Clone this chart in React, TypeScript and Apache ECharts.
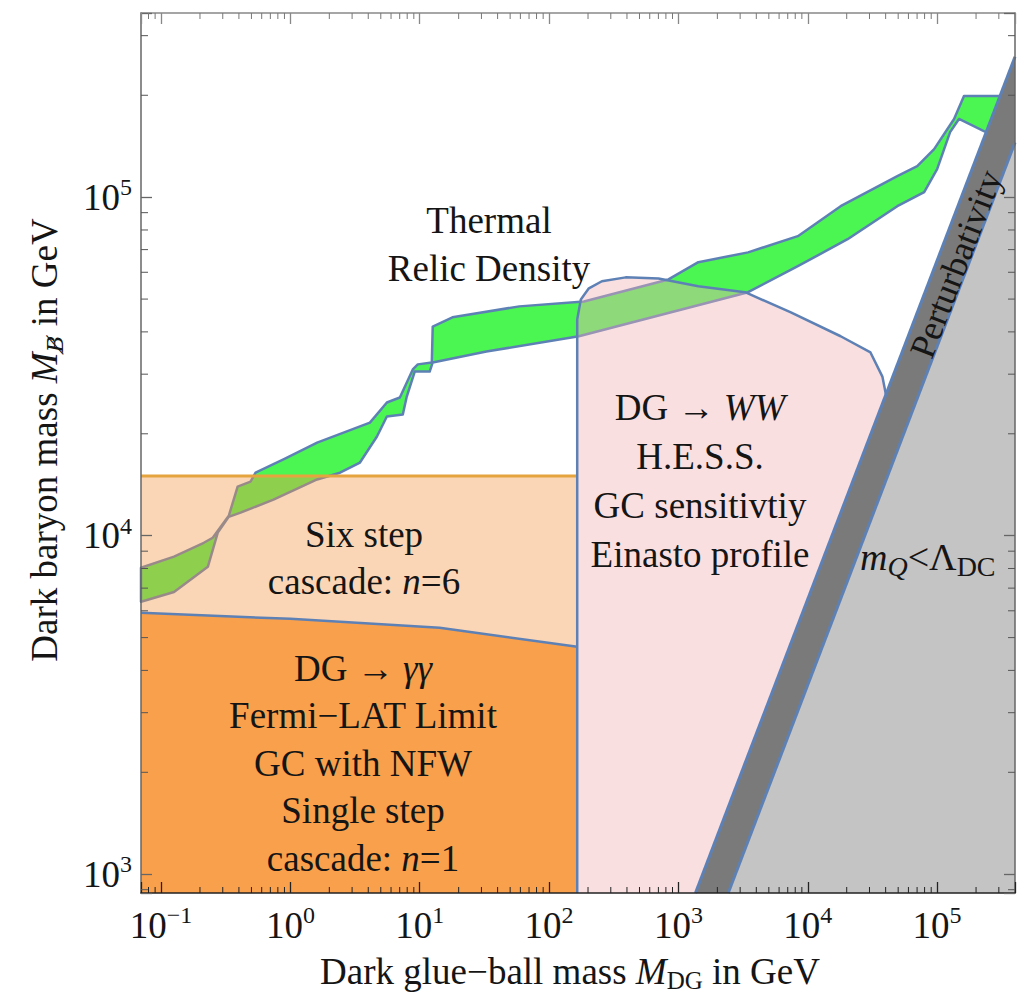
import React, { useEffect, useRef } from "react";
import * as echarts from "echarts";

// ---------- axis ranges ----------
const X_MIN = 0.07;
const X_MAX = 4e5;
const Y_MIN = 880;
const Y_MAX = 3.5e5;

// ---------- Thermal relic density band (upper / lower edge) ----------
const RELIC_UPPER_X = [0.07, 0.126, 0.214, 0.251, 0.334, 0.391, 0.492, 0.538, 0.884, 1.61, 4.12, 5.57, 7.02, 8.84, 9.66, 12.4, 12.6, 17.9, 58.8, 186, 837, 1425, 3455, 8375, 17950, 49230, 70200, 94800, 135200, 161300, 358000];
const RELIC_UPPER_Y = [8040, 8670, 9530, 9860, 11450, 13960, 14450, 15350, 16800, 18840, 21580, 24750, 25600, 30980, 32070, 32500, 41480, 44170, 47580, 49210, 57150, 64260, 68700, 76700, 94050, 115400, 123600, 138700, 170200, 199000, 199000];
const RELIC_LOWER_X = [0.07, 0.126, 0.23, 0.2745, 0.3335, 0.412, 0.74, 1.61, 2.42, 3.45, 4.67, 5.57, 7.4, 7.94, 9.15, 11.94, 12.6, 32.8, 170, 3455, 8375, 20310, 49230, 79430, 100000, 126000, 147600, 229900, 358000];
const RELIC_LOWER_Y = [6380, 6820, 8090, 10210, 11370, 11700, 12780, 14660, 15350, 16450, 19630, 22490, 22800, 25770, 30540, 30540, 32500, 35000, 38830, 52390, 62530, 75130, 94050, 103500, 121000, 155700, 170200, 156800, 146600];

// ---------- H.E.S.S. region boundary ----------
const HESS_X = [165, 165, 176, 203, 256, 391, 702, 1425, 3275, 7400, 17950, 30530, 37740, 40180, 1354];
const HESS_Y = [880, 43560, 49890, 53790, 56440, 57960, 57530, 54540, 52390, 45700, 38830, 34780, 29510, 26120, 880];

// ---------- Fermi-LAT single step limit (top edge) ----------
const FERMI_X = [0.07, 1, 14.25, 165];
const FERMI_Y = [5916, 5680, 5343, 4695];

// ---------- Six step cascade limit ----------
const SIX_STEP_X = [0.07, 165];
const SIX_STEP_Y = [15000, 15000];

// ---------- Perturbativity band edges ----------
const PERT_LEFT_X = [1354, 4e5];
const PERT_LEFT_Y = [880, 2.6e5];
const PERT_RIGHT_X = [2427, 4e5];
const PERT_RIGHT_Y = [880, 1.45e5];

const F = '"Liberation Serif", "Times New Roman", Times, serif';
const BLUE = "#5E81B5";
const INK = "#151515";

const zip = (xs: number[], ys: number[]) => xs.map((x, i) => [x, ys[i]]);

function polySeries(name: string, pts: number[][], style: any, closed: boolean, z = 2) {
  return {
    type: "custom",
    name,
    xAxisIndex: 0,
    yAxisIndex: 0,
    silent: true,
    z,
    data: pts,
    renderItem: (params: any, api: any) => {
      if (params.dataIndex !== 0) return null;
      const points = pts.map((p) => api.coord(p));
      if (closed) return { type: "polygon", shape: { points }, style };
      return { type: "polyline", shape: { points }, style: { fill: "none", ...style } };
    },
  };
}

// minor tick values (2..9 x 10^k) inside the ranges
const MINOR_X: number[] = [];
for (let e = -2; e <= 5; e++) for (let m = 2; m <= 9; m++) { const v = m * Math.pow(10, e); if (v > X_MIN * 1.0001 && v < X_MAX * 0.9999) MINOR_X.push(v); }
const MINOR_Y: number[] = [];
for (let e = 2; e <= 5; e++) for (let m = 2; m <= 9; m++) { const v = m * Math.pow(10, e); if (v > Y_MIN && v < Y_MAX) MINOR_Y.push(v); }

const labelRich = {
  b: { fontFamily: F, fontSize: 37, lineHeight: 44, color: INK },
  s: { fontFamily: F, fontSize: 24, lineHeight: 24, verticalAlign: "top", color: INK },
};
const powFmt = (v: number) => {
  const e = Math.log10(v);
  const r = Math.round(e);
  if (Math.abs(e - r) > 1e-6) return "";
  return `{b|10}{s|${r < 0 ? "\u2212" + -r : r}}`;
};

function textRich(fs: number, lh: number, subScale: number) {
  const ss = Math.round(fs * subScale);
  return {
    i: { fontFamily: F, fontSize: fs, fontStyle: "italic", lineHeight: lh, fill: INK },
    sub: { fontFamily: F, fontSize: ss, lineHeight: Math.round(ss * 1.03), verticalAlign: "bottom", fill: INK },
    subi: { fontFamily: F, fontSize: ss, fontStyle: "italic", lineHeight: Math.round(ss * 1.03), verticalAlign: "bottom", fill: INK },
    subslash: { fontFamily: '"DejaVu Serif", serif', fontSize: ss - 2, fontStyle: "italic", lineHeight: Math.round(ss * 1.03), verticalAlign: "bottom", fill: INK },
  };
}

function label(x: number, y: number, text: string, fs: number, lh: number, extra: any = {}, subScale = 0.68) {
  return {
    type: "text",
    x,
    y,
    silent: true,
    z: 100,
    ...extra,
    style: {
      text,
      fontFamily: F,
      fontSize: fs,
      lineHeight: lh,
      fill: INK,
      align: extra.align || "center",
      verticalAlign: "middle",
      rich: textRich(fs, lh, subScale),
    },
  };
}

export default function App() {
  const ref = useRef<HTMLDivElement>(null);
  useEffect(() => {
    const chart = echarts.init(ref.current!, null, { renderer: "svg" });
    const upper = zip(RELIC_UPPER_X, RELIC_UPPER_Y);
    const lower = zip(RELIC_LOWER_X, RELIC_LOWER_Y);
    const fermi = zip(FERMI_X, FERMI_Y);
    const six = zip(SIX_STEP_X, SIX_STEP_Y);
    const hess = zip(HESS_X, HESS_Y);
    const pl = zip(PERT_LEFT_X, PERT_LEFT_Y);
    const pr = zip(PERT_RIGHT_X, PERT_RIGHT_Y);
    const edgeX = FERMI_X[FERMI_X.length - 1];

    const series: any[] = [
      polySeries("fermi", [[X_MIN, Y_MIN], ...fermi, [edgeX, Y_MIN]], { fill: "#F9A04C" }, true, 2),
      polySeries("relic", [...upper, ...lower.slice().reverse()], { fill: "#4CF652", stroke: BLUE, lineWidth: 2.5, lineJoin: "round" }, true, 3),
      polySeries("sixstep", [...fermi, [edgeX, SIX_STEP_Y[1]], [X_MIN, SIX_STEP_Y[0]]], { fill: "rgba(242,152,72,0.4)" }, true, 4),
      polySeries("hess", hess, { fill: "rgba(242,175,180,0.4)" }, true, 4),
      polySeries("sixline", six, { stroke: "#E6A43E", lineWidth: 3 }, false, 5),
      polySeries("fermiline", fermi, { stroke: BLUE, lineWidth: 2.5 }, false, 5),
      polySeries("hessline", hess.slice(0, hess.length - 1), { stroke: BLUE, lineWidth: 2.5, lineJoin: "round" }, false, 5),
      polySeries("gray", [pr[0], [X_MAX, Y_MIN], pr[1]], { fill: "#C4C4C4" }, true, 6),
      polySeries("band", [pl[0], pr[0], pr[1], pl[1]], { fill: "#7A7A7A" }, true, 6),
      polySeries("bandL", pl, { stroke: BLUE, lineWidth: 3 }, false, 7),
      polySeries("bandR", pr, { stroke: BLUE, lineWidth: 3 }, false, 7),
      {
        type: "custom",
        name: "minorX",
        silent: true,
        z: 20,
        data: MINOR_X.map((v) => [v, Y_MIN]),
        renderItem: (params: any, api: any) => {
          const v = MINOR_X[params.dataIndex];
          const b = api.coord([v, Y_MIN]);
          const t = api.coord([v, Y_MAX]);
          return {
            type: "group",
            children: [
              { type: "line", shape: { x1: b[0], y1: b[1], x2: b[0], y2: b[1] - 6 }, style: { stroke: "#222", lineWidth: 1 } },
              { type: "line", shape: { x1: t[0], y1: t[1], x2: t[0], y2: t[1] + 6 }, style: { stroke: "#777", lineWidth: 1 } },
            ],
          };
        },
      },
      {
        type: "custom",
        name: "minorY",
        silent: true,
        z: 20,
        data: MINOR_Y.map((v) => [X_MIN, v]),
        renderItem: (params: any, api: any) => {
          const v = MINOR_Y[params.dataIndex];
          const l = api.coord([X_MIN, v]);
          const r = api.coord([X_MAX, v]);
          return {
            type: "group",
            children: [
              { type: "line", shape: { x1: l[0], y1: l[1], x2: l[0] + 7, y2: l[1] }, style: { stroke: "#555", lineWidth: 1 } },
              { type: "line", shape: { x1: r[0], y1: r[1], x2: r[0] - 7, y2: r[1] }, style: { stroke: "#555", lineWidth: 1 } },
            ],
          };
        },
      },
    ];

    const logAxis = (pos: string, min: number, max: number, color: string, showLabel: boolean, margin: number) => ({
      type: "log",
      logBase: 10,
      min,
      max,
      position: pos,
      z: 10,
      axisLine: { show: true, onZero: false, lineStyle: { color, width: 1.5 } },
      axisTick: { show: true, inside: true, length: 11, lineStyle: { color, width: 1.3 } },
      axisLabel: { show: showLabel, margin, formatter: powFmt, rich: labelRich },
      splitLine: { show: false },
      minorTick: { show: false },
    });

    chart.setOption({
      animation: false,
      backgroundColor: "#ffffff",
      grid: { left: 141, top: 13, width: 878, height: 880, containLabel: false },
      xAxis: [logAxis("bottom", X_MIN, X_MAX, "#222", true, 10), logAxis("top", X_MIN, X_MAX, "#888", false, 8)],
      yAxis: [logAxis("left", Y_MIN, Y_MAX, "#666", true, 9), logAxis("right", Y_MIN, Y_MAX, "#666", false, 8)],
      series,
      graphic: [
        label(489, 244, "Thermal\nRelic Density", 37, 48),
        label(364, 558, "Six step\ncascade: {i|n}=6", 37, 47),
        label(363, 763, "DG \u2192 {i|\u03B3\u03B3}\nFermi\u2212LAT Limit\nGC with NFW\nSingle step\ncascade: {i|n}=1", 37, 47.5),
        label(700, 481, "DG \u2192 {i|WW}\nH.E.S.S.\nGC sensitivtiy\nEinasto profile", 37, 49),
        label(860, 557, "{i|m}{subi|Q}<\u039B{sub|DC}", 38, 46, { align: "left" }, 0.74),
        label(956, 264, "Perturbativity", 36, 40, { rotation: Math.atan(2.6) }),
        label(570, 971, "Dark glue\u2212ball mass {i|M}{sub|DG} in GeV", 37, 44),
        label(44, 440, "Dark baryon mass {i|M}{subslash|B\u0338} in GeV", 37, 44, { rotation: Math.PI / 2 }),
      ],
    });
    return () => chart.dispose();
  }, []);
  return <div ref={ref} style={{ position: "fixed", left: 0, top: 0, width: 1018, height: 1002, background: "#fff" }} />;
}
